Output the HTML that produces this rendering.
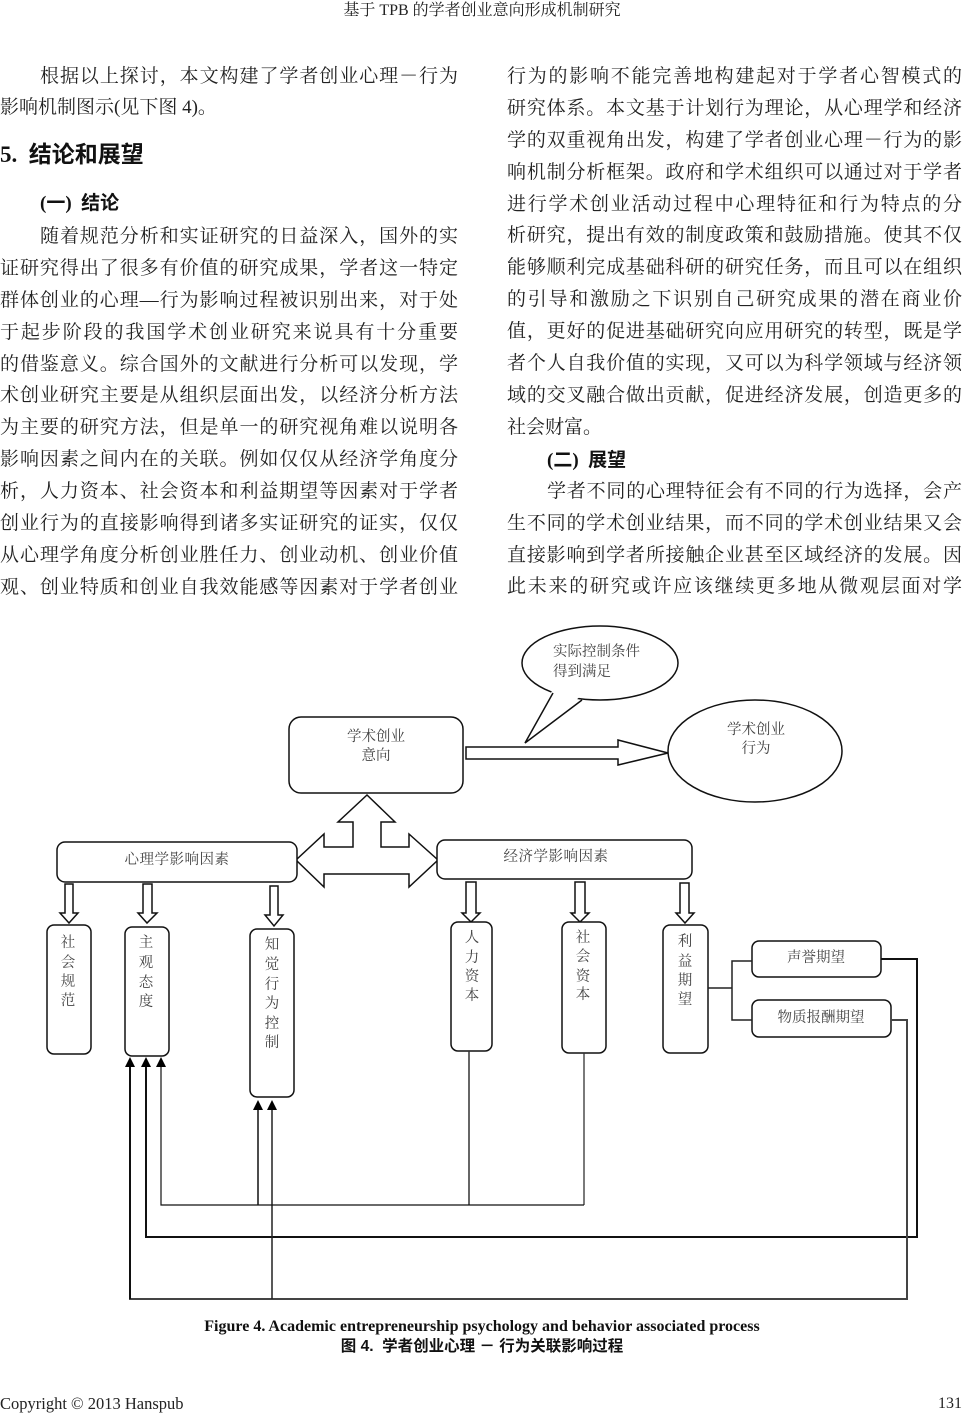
<!DOCTYPE html>
<html>
<head>
<meta charset="utf-8">
<style>
html,body{margin:0;padding:0;background:#fff;}
#pg{position:relative;width:964px;height:1414px;overflow:hidden;background:#fff;color:#222;
font-family:"Liberation Serif","Noto Serif CJK SC",serif;}
.l{position:absolute;height:32px;line-height:32px;font-size:19px;text-align:justify;text-align-last:justify;white-space:normal;}
.n{position:absolute;height:32px;line-height:32px;font-size:19px;white-space:nowrap;}
.L{left:0;width:458px;}
.R{left:507px;width:455px;}
.Li{left:40px;width:418px;}
.Ri{left:547px;width:415px;}
.h{position:absolute;white-space:nowrap;font-weight:bold;font-family:"Liberation Serif","Noto Sans CJK SC",sans-serif;color:#111;}
</style>
</head>
<body>
<div id="pg">
<div style="position:absolute;left:0;top:0;width:964px;text-align:center;font-size:16px;line-height:22px;white-space:nowrap;">基于 TPB 的学者创业意向形成机制研究</div>

<!-- left column -->
<div class="l Li" style="top:61px;">根据以上探讨，本文构建了学者创业心理－行为</div>
<div class="n" style="left:0;top:92px;">影响机制图示(见下图 4)。</div>
<div class="h" style="left:0;top:139px;height:32px;line-height:32px;font-size:23px;">5.&nbsp; 结论和展望</div>
<div class="h" style="left:40px;top:188px;height:32px;line-height:32px;font-size:19px;">(一)&nbsp; 结论</div>
<div class="l Li" style="top:221px;">随着规范分析和实证研究的日益深入，国外的实</div>
<div class="l L" style="top:253px;">证研究得出了很多有价值的研究成果，学者这一特定</div>
<div class="l L" style="top:285px;">群体创业的心理—行为影响过程被识别出来，对于处</div>
<div class="l L" style="top:317px;">于起步阶段的我国学术创业研究来说具有十分重要</div>
<div class="l L" style="top:349px;">的借鉴意义。综合国外的文献进行分析可以发现，学</div>
<div class="l L" style="top:380px;">术创业研究主要是从组织层面出发，以经济分析方法</div>
<div class="l L" style="top:412px;">为主要的研究方法，但是单一的研究视角难以说明各</div>
<div class="l L" style="top:444px;">影响因素之间内在的关联。例如仅仅从经济学角度分</div>
<div class="l L" style="top:476px;">析，人力资本、社会资本和利益期望等因素对于学者</div>
<div class="l L" style="top:508px;">创业行为的直接影响得到诸多实证研究的证实，仅仅</div>
<div class="l L" style="top:540px;">从心理学角度分析创业胜任力、创业动机、创业价值</div>
<div class="l L" style="top:572px;">观、创业特质和创业自我效能感等因素对于学者创业</div>

<!-- right column -->
<div class="l R" style="top:61px;">行为的影响不能完善地构建起对于学者心智模式的</div>
<div class="l R" style="top:93px;">研究体系。本文基于计划行为理论，从心理学和经济</div>
<div class="l R" style="top:125px;">学的双重视角出发，构建了学者创业心理－行为的影</div>
<div class="l R" style="top:157px;">响机制分析框架。政府和学术组织可以通过对于学者</div>
<div class="l R" style="top:189px;">进行学术创业活动过程中心理特征和行为特点的分</div>
<div class="l R" style="top:220px;">析研究，提出有效的制度政策和鼓励措施。使其不仅</div>
<div class="l R" style="top:252px;">能够顺利完成基础科研的研究任务，而且可以在组织</div>
<div class="l R" style="top:284px;">的引导和激励之下识别自己研究成果的潜在商业价</div>
<div class="l R" style="top:316px;">值，更好的促进基础研究向应用研究的转型，既是学</div>
<div class="l R" style="top:348px;">者个人自我价值的实现，又可以为科学领域与经济领</div>
<div class="l R" style="top:380px;">域的交叉融合做出贡献，促进经济发展，创造更多的</div>
<div class="n" style="left:507px;top:412px;">社会财富。</div>
<div class="h" style="left:547px;top:445px;height:32px;line-height:32px;font-size:19px;">(二)&nbsp; 展望</div>
<div class="l Ri" style="top:476px;">学者不同的心理特征会有不同的行为选择，会产</div>
<div class="l R" style="top:508px;">生不同的学术创业结果，而不同的学术创业结果又会</div>
<div class="l R" style="top:540px;">直接影响到学者所接触企业甚至区域经济的发展。因</div>
<div class="l R" style="top:571px;">此未来的研究或许应该继续更多地从微观层面对学</div>

<!-- diagram -->
<svg width="964" height="1414" viewBox="0 0 964 1414" style="position:absolute;left:0;top:0;" font-family="'Liberation Serif','Noto Serif CJK SC',serif">
<g fill="#fff" stroke="#111" stroke-width="1.5" stroke-linejoin="miter">
  <ellipse cx="600" cy="663" rx="78" ry="37"/>
  <polygon points="553,689 525,743 582,695" stroke="none"/>
  <polyline points="553,693 525,743 582,700" fill="none"/>
  <rect x="289" y="717" width="174" height="76" rx="12" ry="12"/>
  <polygon points="466,747 618,747 618,740 668,753 618,765 618,759 466,759"/>
  <ellipse cx="755" cy="751" rx="87" ry="51"/>
  <polygon points="367,795 395,822 381,822 381,847 409,847 409,834 438,860 409,887 409,874 324,874 324,887 296,860 324,834 324,847 353,847 353,822 338,822"/>
  <rect x="57" y="842" width="240" height="40" rx="8" ry="8"/>
  <rect x="437" y="840" width="255" height="39" rx="8" ry="8"/>
  <polygon points="65,884 73,884 73,913 78,913 69,923 60,913 65,913"/>
  <polygon points="143,884 152,884 152,913 157,913 147,923 138,913 143,913"/>
  <polygon points="270,886 278,886 278,915 283,915 274,926 265,915 270,915"/>
  <polygon points="466,882 476,882 476,913 480,913 471,922 462,913 466,913"/>
  <polygon points="575,882 585,882 585,913 589,913 580,922 571,913 575,913"/>
  <polygon points="680,883 689,883 689,913 694,913 685,923 676,913 680,913"/>
  <rect x="47" y="925" width="44" height="129" rx="7" ry="7"/>
  <rect x="125" y="927" width="44" height="129" rx="7" ry="7"/>
  <rect x="250" y="929" width="44" height="168" rx="7" ry="7"/>
  <rect x="451" y="922" width="41" height="129" rx="7" ry="7"/>
  <rect x="562" y="922" width="44" height="131" rx="7" ry="7"/>
  <rect x="663" y="925" width="45" height="128" rx="7" ry="7"/>
  <rect x="752" y="941" width="129" height="36" rx="7" ry="7"/>
  <rect x="752" y="1000" width="139" height="37" rx="7" ry="7"/>
</g>
<g fill="none" stroke-linejoin="miter">
  <polyline points="708,988 732,988" stroke="#222" stroke-width="1.5"/>
  <polyline points="752,961 732,961 732,1020 752,1020" stroke="#222" stroke-width="1.5"/>
  <polyline points="881,959 917,959 917,1237 146,1237 146,1066" stroke="#111" stroke-width="2"/>
  <polyline points="891,1020 907,1020 907,1299 130,1299 130,1066" stroke="#444" stroke-width="2"/>
  <line x1="130" y1="1299" x2="130" y2="1066" stroke="#111" stroke-width="2"/>
  <line x1="272" y1="1299" x2="272" y2="1108" stroke="#222" stroke-width="1.5"/>
  <line x1="469" y1="1051" x2="469" y2="1205" stroke="#333" stroke-width="1.5"/>
  <line x1="584" y1="1053" x2="584" y2="1205" stroke="#333" stroke-width="1.3"/>
  <polyline points="584,1205 161,1205 161,1066" stroke="#111" stroke-width="1.2"/>
  <line x1="258" y1="1205" x2="258" y2="1108" stroke="#111" stroke-width="1.5"/>
</g>
<g fill="#000">
  <polygon points="130,1057 135,1067 125,1067"/>
  <polygon points="146,1057 151,1067 141,1067"/>
  <polygon points="161,1057 166,1067 156,1067"/>
  <polygon points="258,1100 263,1110 253,1110"/>
  <polygon points="272,1100 277,1110 267,1110"/>
</g>
<g fill="#444" font-size="14.5" dominant-baseline="central">
  <text x="553" y="652">实际控制条件</text>
  <text x="553" y="672">得到满足</text>
  <text x="376" y="737" text-anchor="middle">学术创业</text>
  <text x="376" y="756" text-anchor="middle">意向</text>
  <text x="756" y="730" text-anchor="middle">学术创业</text>
  <text x="756" y="749" text-anchor="middle">行为</text>
  <text x="177" y="860" text-anchor="middle" letter-spacing="0.5">心理学影响因素</text>
  <text x="556" y="857" text-anchor="middle" letter-spacing="0.5">经济学影响因素</text>
  <text x="816" y="958" text-anchor="middle">声誉期望</text>
  <text x="821" y="1018" text-anchor="middle">物质报酬期望</text>
</g>
<g fill="#444" font-size="14.5" text-anchor="middle" dominant-baseline="central">
  <text x="68" y="943">社</text><text x="68" y="963">会</text><text x="68" y="982">规</text><text x="68" y="1001">范</text>
  <text x="146" y="943">主</text><text x="146" y="963">观</text><text x="146" y="983">态</text><text x="146" y="1002">度</text>
  <text x="272" y="945">知</text><text x="272" y="965">觉</text><text x="272" y="985">行</text><text x="272" y="1004">为</text><text x="272" y="1024">控</text><text x="272" y="1043">制</text>
  <text x="472" y="938">人</text><text x="472" y="958">力</text><text x="472" y="977">资</text><text x="472" y="996">本</text>
  <text x="583" y="938">社</text><text x="583" y="957">会</text><text x="583" y="977">资</text><text x="583" y="995">本</text>
  <text x="685" y="942">利</text><text x="685" y="962">益</text><text x="685" y="981">期</text><text x="685" y="1000">望</text>
</g>
</svg>

<!-- caption -->
<div style="position:absolute;left:0;top:1317px;width:964px;text-align:center;font-size:16px;line-height:20px;font-weight:bold;font-family:'Liberation Serif',serif;white-space:nowrap;color:#111;">Figure 4. Academic entrepreneurship psychology and behavior associated process</div>
<div style="position:absolute;left:0;top:1337px;width:964px;text-align:center;font-size:15.5px;line-height:20px;font-weight:bold;font-family:'Liberation Sans','Noto Sans CJK SC',sans-serif;white-space:nowrap;color:#111;">图 4.&nbsp; 学者创业心理 － 行为关联影响过程</div>

<!-- footer -->
<div style="position:absolute;left:0;top:1394px;font-size:16.5px;line-height:20px;white-space:nowrap;">Copyright © 2013 Hanspub</div>
<div style="position:absolute;right:2px;top:1394px;font-size:16px;line-height:20px;white-space:nowrap;">131</div>
</div>
</body>
</html>
